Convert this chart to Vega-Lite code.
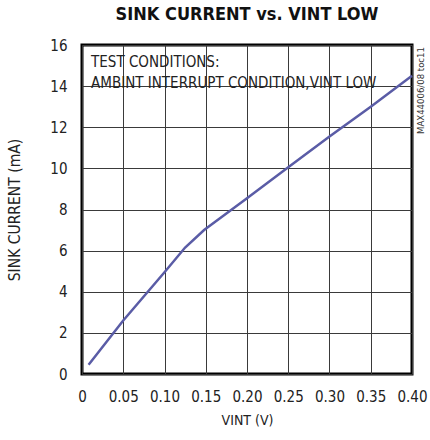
{
  "$schema": "https://vega.github.io/schema/vega-lite/v6.json",
  "width": 330,
  "height": 329,
  "autosize": {"type": "none"},
  "padding": {"left": 82, "top": 45, "right": 18, "bottom": 66},
  "background": "white",
  "config": {
    "font": "'Liberation Sans Narrow', 'DejaVu Sans Condensed', Roboto, sans-serif",
    "view": {"stroke": "black", "strokeWidth": 3},
    "axis": {
      "labelFont": "'Liberation Sans Narrow', 'DejaVu Sans Condensed', Roboto, sans-serif",
      "titleFont": "'Liberation Sans Narrow', 'DejaVu Sans Condensed', Roboto, sans-serif",
      "labelColor": "#222",
      "titleColor": "#222",
      "titleFontWeight": "normal",
      "labelFontSize": 15,
      "titleFontSize": 14,
      "domain": false,
      "ticks": false,
      "grid": true,
      "gridColor": "#3a3a3a",
      "gridWidth": 1,
      "gridOpacity": 1,
      "labelOverlap": false,
      "labelFlush": false
    }
  },
  "title": {
    "text": "SINK CURRENT vs. VINT  LOW",
    "font": "'Liberation Sans Narrow', 'DejaVu Sans Condensed', Roboto, sans-serif",
    "fontWeight": "bold",
    "fontSize": 18,
    "color": "#111",
    "anchor": "middle",
    "offset": 14
  },
  "datasets": {
    "curve": [
      {"v": 0.008, "i": 0.45},
      {"v": 0.05, "i": 2.6},
      {"v": 0.1, "i": 4.95},
      {"v": 0.125, "i": 6.15},
      {"v": 0.148, "i": 7.0},
      {"v": 0.2, "i": 8.55},
      {"v": 0.25, "i": 10.05},
      {"v": 0.3, "i": 11.55},
      {"v": 0.35, "i": 13.0},
      {"v": 0.4, "i": 14.5}
    ],
    "notes": [
      {"row": 1, "label": "TEST CONDITIONS:"},
      {"row": 2, "label": "AMBINT INTERRUPT CONDITION,VINT LOW"},
      {"row": 3, "label": "MAX44006/08 toc11"}
    ]
  },
  "layer": [
    {
      "mark": {"type": "rect", "fill": "white", "stroke": null},
      "encoding": {
        "x": {"datum": 0.004, "type": "quantitative", "scale": {"domain": [0, 0.4], "nice": false, "zero": false},
          "axis": {"values": [0, 0.05, 0.1, 0.15, 0.2, 0.25, 0.3, 0.35, 0.4],
            "labelExpr": "datum.value === 0 ? '0' : format(datum.value, '.2f')",
            "title": "VINT (V)", "labelPadding": 15, "titlePadding": 9}},
        "x2": {"datum": 0.376},
        "y": {"datum": 13.3, "type": "quantitative", "scale": {"domain": [0, 16], "nice": false, "zero": true},
          "axis": {"values": [0, 2, 4, 6, 8, 10, 12, 14, 16], "title": "SINK CURRENT (mA)", "titleFontSize": 15.5, "labelPadding": 15, "titlePadding": 27}},
        "y2": {"datum": 15.82}
      }
    },
    {
      "data": {"name": "curve"},
      "mark": {"type": "line", "color": "#5a5ca6", "strokeWidth": 2.5},
      "encoding": {
        "x": {"field": "v", "type": "quantitative"},
        "y": {"field": "i", "type": "quantitative"}
      }
    },
    {
      "data": {"name": "notes"},
      "transform": [{"filter": "datum.row === 1"}],
      "mark": {"type": "text", "align": "left", "baseline": "middle", "fontSize": 15, "color": "#222"},
      "encoding": {
        "x": {"datum": 0.011, "type": "quantitative"},
        "y": {"datum": 15.17, "type": "quantitative"},
        "text": {"field": "label"}
      }
    },
    {
      "data": {"name": "notes"},
      "transform": [{"filter": "datum.row === 2"}],
      "mark": {"type": "text", "align": "left", "baseline": "middle", "fontSize": 15, "color": "#222"},
      "encoding": {
        "x": {"datum": 0.011, "type": "quantitative"},
        "y": {"datum": 14.15, "type": "quantitative"},
        "text": {"field": "label"}
      }
    },
    {
      "data": {"name": "notes"},
      "transform": [{"filter": "datum.row === 3"}],
      "mark": {"type": "text", "angle": 270, "align": "right", "baseline": "middle", "fontSize": 9.5, "color": "#333", "clip": false},
      "encoding": {
        "x": {"datum": 0.4115, "type": "quantitative"},
        "y": {"datum": 15.9, "type": "quantitative"},
        "text": {"field": "label"}
      }
    }
  ]
}
